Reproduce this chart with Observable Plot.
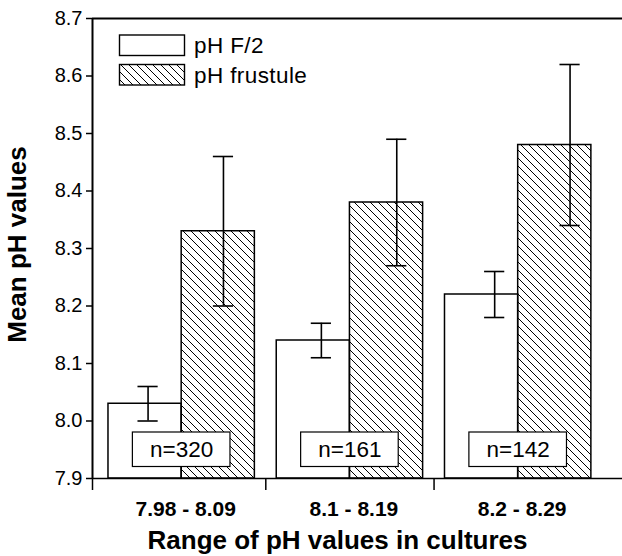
<!DOCTYPE html>
<html>
<head>
<meta charset="utf-8">
<script src="https://cdn.jsdelivr.net/npm/d3@7"></script>
<script src="https://cdn.jsdelivr.net/npm/@observablehq/plot@0.6"></script>
<style>
  body { margin: 0; background: #fff; }
  #wrap { position: relative; width: 622px; height: 556px; font-family: Arial, "Liberation Sans", sans-serif; }
  #legend { position: absolute; left: 0; top: 0; }
</style>
</head>
<body>
<div id="wrap"></div>
<script>
// ---- data ----
const groups = ["7.98 - 8.09", "8.1 - 8.19", "8.2 - 8.29"];
const nLabels = ["n=320", "n=161", "n=142"];
const f2Mean = [8.03, 8.14, 8.22];
const f2Err = [0.03, 0.03, 0.04];
const frustMean = [8.33, 8.38, 8.48];
const frustErr = [0.13, 0.11, 0.14];
const seriesNames = ["pH F/2", "pH frustule"];
const yTicks = [7.9, 8.0, 8.1, 8.2, 8.3, 8.4, 8.5, 8.6, 8.7];

// ---- layout constants ----
const xDomain = [0.47, 3.62];
const yDomain = [7.9, 8.7];
const W = 0.435;          // bar width (x units)
const capHalf = 0.06;     // error cap half width
const boxHalf = 0.29;     // n-box half width
const errStretch = 1.03;  // error bars are placed on a slightly stretched axis in the original
const font = "Arial, 'Liberation Sans', sans-serif";

const rows = groups.map((g, i) => ({pos: i + 1, group: g, n: nLabels[i]}));
const f2Rows = rows.map((r, i) => ({...r, m: f2Mean[i], e: f2Err[i], c: r.pos - W / 2}));
const frRows = rows.map((r, i) => ({...r, m: frustMean[i], e: frustErr[i], c: r.pos + W / 2}));
const errRows = [...f2Rows, ...frRows].map(d => ({...d, ex: d.c * errStretch - 0.0057}));
const capRows = errRows.flatMap(d => [{ex: d.ex, y: d.m - d.e}, {ex: d.ex, y: d.m + d.e}]);

const plot = Plot.plot({
  width: 622,
  height: 556,
  marginLeft: 92,
  marginRight: 0,
  marginTop: 18,
  marginBottom: 78,
  x: {domain: xDomain, axis: null},
  y: {domain: yDomain, axis: null},
  style: {fontFamily: font, color: "black", background: "white", overflow: "visible"},
  marks: [
    Plot.rect(f2Rows, {x1: d => d.pos - W, x2: "pos", y1: yDomain[0], y2: "m", fill: "white", stroke: "black", strokeWidth: 1.5}),
    Plot.rect(frRows, {x1: "pos", x2: d => d.pos + W, y1: yDomain[0], y2: "m", fill: "url(#hatch)", stroke: "black", strokeWidth: 1.5}),
    Plot.ruleX(errRows, {x: "ex", y1: d => d.m - d.e, y2: d => d.m + d.e, stroke: "black", strokeWidth: 1.6}),
    Plot.ruleY(capRows, {y: "y", x1: d => d.ex - capHalf, x2: d => d.ex + capHalf, stroke: "black", strokeWidth: 1.6}),
    Plot.rect(rows, {x1: d => d.pos - boxHalf, x2: d => d.pos + boxHalf, y1: 7.92, y2: 7.98, fill: "white", stroke: "black", strokeWidth: 1.2}),
    Plot.text(rows, {x: "pos", y: 7.95, text: "n", fontSize: 22.5, fill: "black"}),
    Plot.axisY({ticks: yTicks, tickFormat: d3.format(".1f"), tickSize: 6, tickPadding: 4, fontSize: 20, label: null, strokeWidth: 1.5}),
    Plot.axisX({ticks: [1, 2, 3], tickFormat: i => groups[i - 1], tickSize: 0, tickPadding: 23, fontSize: 21, fontWeight: "bold", label: null, dx: 4}),
    Plot.axisX({ticks: [xDomain[0], 1.5, 2.5], tickFormat: () => "", tickSize: 12, label: null, strokeWidth: 1.5}),
    Plot.ruleX([xDomain[0]], {stroke: "black", strokeWidth: 2}),
    Plot.ruleY([yDomain[1]], {stroke: "black", strokeWidth: 2.2}),
    Plot.ruleY([yDomain[0]], {stroke: "black", strokeWidth: 1.6}),
    Plot.text(["Mean pH values"], {frameAnchor: "left", textAnchor: "middle", rotate: -90, dx: -75, dy: -4, fontSize: 26, fontWeight: "bold", lineAnchor: "middle"}),
    Plot.text(["Range of pH values in cultures"], {frameAnchor: "bottom", textAnchor: "middle", dx: -20, dy: 62, fontSize: 26, fontWeight: "bold", lineAnchor: "middle"})
  ]
});

const ns = "http://www.w3.org/2000/svg";
const hatchDef = id => `<pattern id="${id}" patternUnits="userSpaceOnUse" width="8" height="8"><path d="M0,0L8,8M-2,6L2,10M6,-2L10,2" stroke="black" stroke-width="1"/></pattern>`;
const defs = document.createElementNS(ns, "defs");
defs.innerHTML = hatchDef("hatch");
plot.insertBefore(defs, plot.firstChild);

const wrap = document.getElementById("wrap");
wrap.appendChild(plot);

// legend (drawn inside the plot area, top-left)
const leg = document.createElementNS(ns, "svg");
leg.setAttribute("id", "legend");
leg.setAttribute("width", 622);
leg.setAttribute("height", 100);
let html = `<defs>${hatchDef("hatchL")}</defs>`;
seriesNames.forEach((name, i) => {
  const y = 35 + i * 29.5;
  html += `<rect x="119.5" y="${y}" width="65" height="20.5" fill="${i === 0 ? "white" : "url(#hatchL)"}" stroke="black" stroke-width="1.4"/>`;
  html += `<text x="194" y="${y + 10.5}" dominant-baseline="central" font-size="22.5" letter-spacing="0.4" font-family="${font.replace(/'/g, "")}" fill="black">${name}</text>`;
});
leg.innerHTML = html;
wrap.appendChild(leg);
</script>
</body>
</html>
